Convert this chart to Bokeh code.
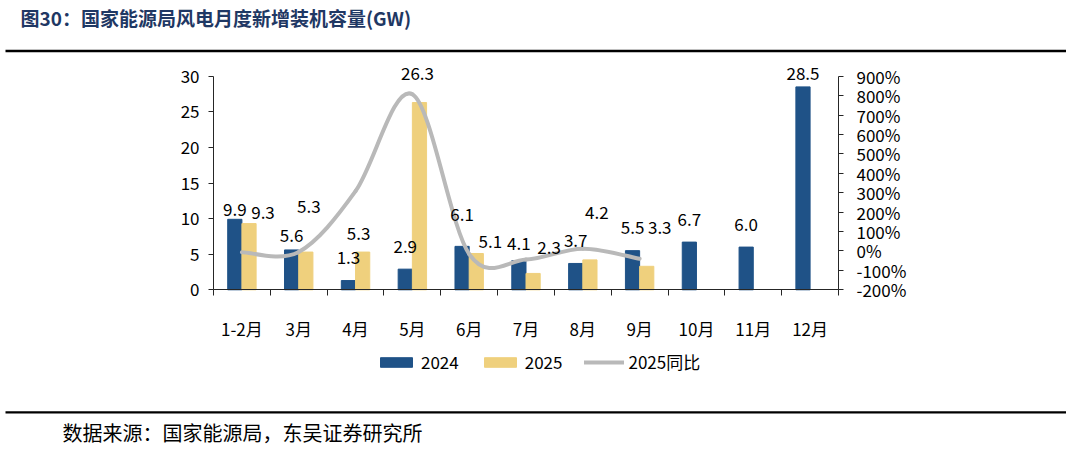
import numpy as np
from bokeh.plotting import figure
from bokeh.models import (ColumnDataSource, Range1d, LinearAxis, FixedTicker,
                          CustomJSTickFormatter, PrintfTickFormatter, Legend,
                          LegendItem, Label, BoxAnnotation)
from bokeh.core.properties import value
from bokeh.embed import file_html
from bokeh.resources import INLINE

# --- data ---
months = ["1-2月", "3月", "4月", "5月", "6月", "7月", "8月", "9月", "10月", "11月", "12月"]
cap_2024 = [9.9, 5.6, 1.3, 2.9, 6.1, 4.1, 3.7, 5.5, 6.7, 6.0, 28.5]
cap_2025 = [9.3, 5.3, 5.3, 26.3, 5.1, 2.3, 4.2, 3.3]
yoy_2025 = [-6, -5, 308, 807, -16, -44, 12, -40]   # %

# label nudges (px) to mimic the hand-placed labels
lift_2024 = [10, 14, 23, 23, 32, 17, 23, 23, 23, 23, 13]
lift_2025 = [11, 46, 19, 29, 12, 26, 47, 39]
shift_2025 = [14, 3, -4, -2, 14, 16, 7, 13]

title_text = "图30：国家能源局风电月度新增装机容量(GW)"
source_text = "数据来源：国家能源局，东吴证券研究所"

FONT = "Noto Sans CJK SC"
BLUE = "#1F5287"
GOLD = "#EFD07D"
GRAY = "#B9B9B9"
NAVY = "#1F3864"
AXIS = "#262626"

# page geometry (px): the frame fills the canvas, axes sit at fixed spots
W, H = 1066, 452
LEFT, RIGHT, TOP, BOTTOM = 213, 838, 75.7, 289.3
ncat = len(months)
px_x = (RIGHT - LEFT) / ncat
px_y = (BOTTOM - TOP) / 30
px_r = (BOTTOM - TOP) / 1100

p = figure(width=W, height=H, output_backend="svg", toolbar_location=None,
           x_range=Range1d(-LEFT / px_x, (W - LEFT) / px_x),
           y_range=Range1d(-(H - BOTTOM) / px_y, BOTTOM / px_y),
           x_axis_type=None, y_axis_type=None, min_border=0)
p.extra_y_ranges = {"yoy": Range1d(-200 - (H - BOTTOM) / px_r, -200 + BOTTOM / px_r)}
p.grid.visible = False
p.outline_line_color = None

# bars
x24 = np.arange(len(cap_2024)) + 0.5 - 0.125
x25 = np.arange(len(cap_2025)) + 0.5 + 0.125
r24 = p.vbar(x=x24, top=cap_2024, width=0.25, color=BLUE)
r25 = p.vbar(x=x25, top=cap_2025, width=0.25, color=GOLD)

# smoothed yoy line (catmull-rom -> bezier, like excel smoothing)
xs = np.arange(len(yoy_2025)) + 0.5
ys = np.array(yoy_2025, dtype=float)
n = len(xs)
seg = dict(x0=[], y0=[], x1=[], y1=[], cx0=[], cy0=[], cx1=[], cy1=[])
for k in range(n - 1):
    a, b, c, d = max(k - 1, 0), k, k + 1, min(k + 2, n - 1)
    seg["x0"].append(xs[b]); seg["y0"].append(ys[b])
    seg["x1"].append(xs[c]); seg["y1"].append(ys[c])
    seg["cx0"].append(xs[b] + (xs[c] - xs[a]) / 6)
    seg["cy0"].append(ys[b] + (ys[c] - ys[a]) / 6)
    seg["cx1"].append(xs[c] - (xs[d] - xs[b]) / 6)
    seg["cy1"].append(ys[c] - (ys[d] - ys[b]) / 6)
r_yoy = p.bezier(source=ColumnDataSource(seg), x0="x0", y0="y0", x1="x1", y1="y1",
                 cx0="cx0", cy0="cy0", cx1="cx1", cy1="cy1",
                 line_color=GRAY, line_width=4, line_cap="round", y_range_name="yoy")

# data labels
lab24 = ColumnDataSource(dict(x=x24, y=cap_2024, t=[f"{v:.1f}" for v in cap_2024],
                              dx=[0] * len(cap_2024), dy=[-v for v in lift_2024]))
lab25 = ColumnDataSource(dict(x=x25, y=cap_2025, t=[f"{v:.1f}" for v in cap_2025],
                              dx=shift_2025, dy=[-v for v in lift_2025]))
for src in (lab24, lab25):
    p.text(x="x", y="y", text="t", x_offset="dx", y_offset="dy", source=src,
           text_align="center", text_baseline="middle", text_color="black",
           text_font=value(FONT), text_font_size="17px")


# axes
def style_axis(ax):
    ax.axis_line_color = AXIS
    ax.major_tick_line_color = AXIS
    ax.minor_tick_line_color = None
    ax.major_tick_out = 5
    ax.major_tick_in = 0
    ax.major_label_text_font = FONT
    ax.major_label_text_font_size = "17px"
    ax.major_label_text_color = "black"


xa = LinearAxis(fixed_location=0, bounds=(0, ncat),
                ticker=FixedTicker(ticks=[i + 0.5 for i in range(ncat)],
                                   minor_ticks=list(range(ncat + 1))),
                formatter=CustomJSTickFormatter(args=dict(labels=months),
                                                code="return labels[Math.floor(tick)]"))
style_axis(xa)
xa.major_tick_out = 0
xa.minor_tick_line_color = AXIS
xa.minor_tick_out = 6
xa.minor_tick_in = 0
xa.major_label_standoff = 20
p.add_layout(xa, "below")

ya = LinearAxis(fixed_location=0, bounds=(0, 30),
                ticker=FixedTicker(ticks=[0, 5, 10, 15, 20, 25, 30]))
style_axis(ya)
ya.major_label_standoff = 9
p.add_layout(ya, "left")

yr = LinearAxis(y_range_name="yoy", fixed_location=ncat, bounds=(-200, 900),
                ticker=FixedTicker(ticks=list(range(-200, 901, 100))),
                formatter=PrintfTickFormatter(format="%d%%"))
style_axis(yr)
yr.major_label_standoff = 13
p.add_layout(yr, "right")

# legend
legend = Legend(items=[LegendItem(label="2024", renderers=[r24]),
                       LegendItem(label="2025", renderers=[r25]),
                       LegendItem(label="2025同比", renderers=[r_yoy])],
                orientation="horizontal", location=(376, H - 374),
                glyph_width=40, glyph_height=12, label_standoff=5, spacing=21,
                padding=0, margin=0, border_line_color=None, background_fill_alpha=0,
                label_text_font=FONT, label_text_font_size="17px",
                label_text_color="black")
p.add_layout(legend)

# title, rules and source note (screen px from frame bottom-left = canvas)
p.add_layout(Label(x=20, y=H - 17, x_units="screen", y_units="screen",
                   text=title_text, text_font=FONT, text_font_style="bold",
                   text_font_size="19px", text_color=NAVY, text_baseline="middle"))
p.add_layout(Label(x=62, y=H - 432, x_units="screen", y_units="screen",
                   text=source_text, text_font=FONT, text_font_size="20px",
                   text_color="black", text_baseline="middle"))
for top, bottom in ((49.3, 51.8), (410.7, 412.9)):
    p.add_layout(BoxAnnotation(left=5, right=W, top=H - top, bottom=H - bottom,
                               left_units="screen", right_units="screen",
                               top_units="screen", bottom_units="screen",
                               fill_color="black", fill_alpha=1, line_color=None))

open("out.html", "w").write(file_html(p, INLINE))
